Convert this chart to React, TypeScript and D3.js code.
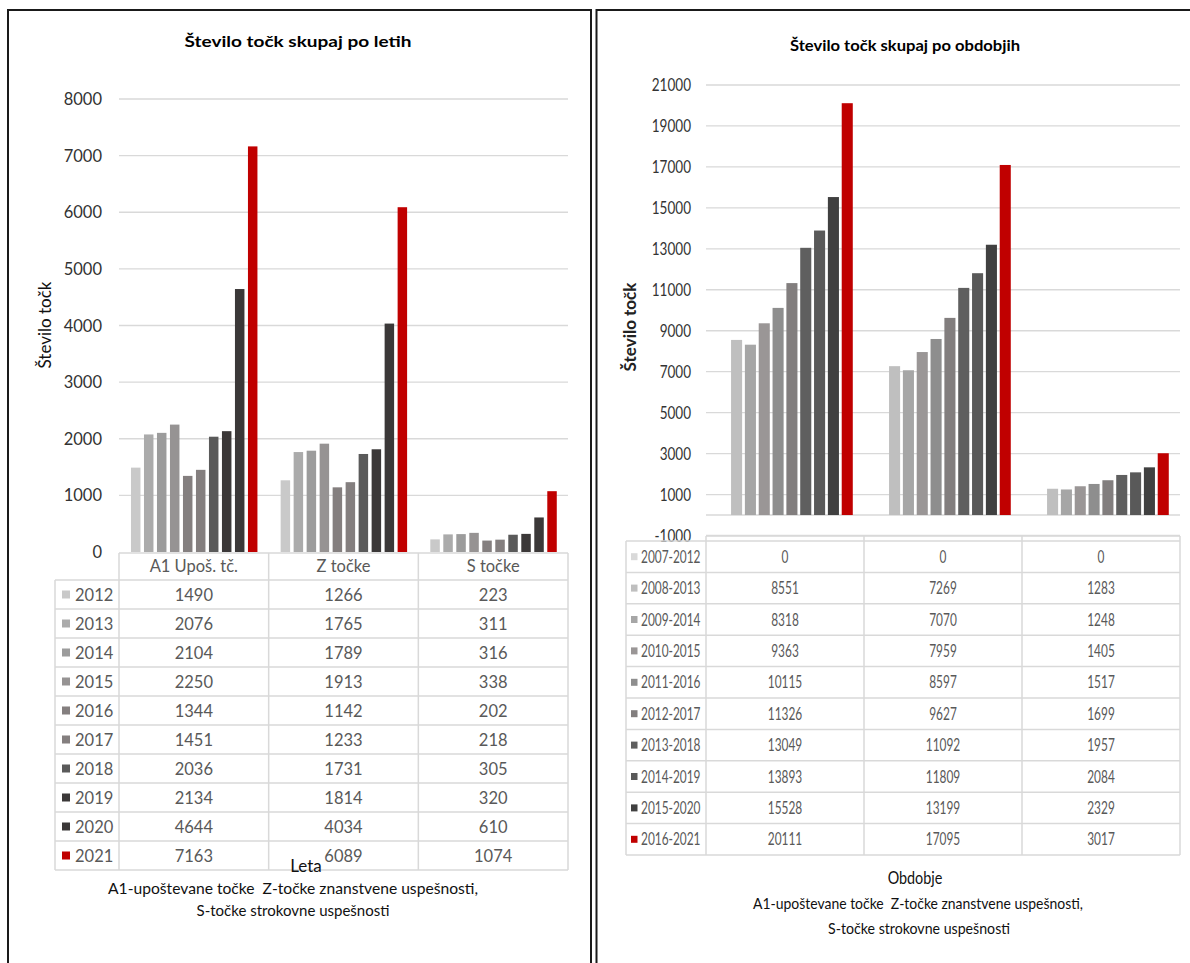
import React from "react";
import * as d3 from "d3";

// ---------- Data: left chart (po letih) ----------
const catsL = ["A1 Upoš. tč.", "Z točke", "S točke"];
const yearsL = ["2012", "2013", "2014", "2015", "2016", "2017", "2018", "2019", "2020", "2021"];
const a1L = [1490, 2076, 2104, 2250, 1344, 1451, 2036, 2134, 4644, 7163];
const zL = [1266, 1765, 1789, 1913, 1142, 1233, 1731, 1814, 4034, 6089];
const sL = [223, 311, 316, 338, 202, 218, 305, 320, 610, 1074];
const colorsL = ["#c9c9c9", "#ababab", "#9c9c9c", "#969393", "#847f7f", "#847f7f", "#5a5a5a", "#3b3838", "#3b3838", "#c00000"];
const ticksL = [0, 1000, 2000, 3000, 4000, 5000, 6000, 7000, 8000];

// ---------- Data: right chart (po obdobjih) ----------
const catsR = ["A1", "Z", "S"];
const periodsR = ["2007-2012", "2008-2013", "2009-2014", "2010-2015", "2011-2016", "2012-2017", "2013-2018", "2014-2019", "2015-2020", "2016-2021"];
const a1R = [0, 8551, 8318, 9363, 10115, 11326, 13049, 13893, 15528, 20111];
const zR = [0, 7269, 7070, 7959, 8597, 9627, 11092, 11809, 13199, 17095];
const sR = [0, 1283, 1248, 1405, 1517, 1699, 1957, 2084, 2329, 3017];
const colorsR = ["#d9d9d9", "#bfbfbf", "#a6a6a6", "#9a9696", "#8e8e8e", "#827e7e", "#5f5f5f", "#595959", "#404040", "#c00000"];
const ticksR = [-1000, 1000, 3000, 5000, 7000, 9000, 11000, 13000, 15000, 17000, 19000, 21000];

const FONT = "Lato, 'Open Sans', sans-serif";
const GRID = "#d9d9d9";

function T(props: any) {
  const { x, y, children, size = 16, anchor = "middle", sx = 1, weight = 400, fill = "#000", rotate = 0, tl } = props;
  const tr = `translate(${x},${y})${rotate ? ` rotate(${rotate})` : ""}${sx !== 1 ? ` scale(${sx},1)` : ""}`;
  return (
    <text
      transform={tr}
      fontSize={size}
      textAnchor={anchor}
      fontWeight={weight}
      fill={fill}
      fontFamily={FONT}
      textLength={tl}
      lengthAdjust={tl ? "spacingAndGlyphs" : undefined}
      style={{ whiteSpace: "pre" }}
    >
      {children}
    </text>
  );
}

function LeftChart() {
  const series = [a1L, zL, sL];
  const y = d3.scaleLinear().domain([0, 8000]).range([552, 99]);
  const x0 = d3.scaleBand<string>().domain(catsL).range([119, 568]);
  const bw = x0.bandwidth();
  const x1 = d3.scaleBand<string>().domain(yearsL).range([bw * 0.08, bw * 0.925]).paddingInner(0.27);
  const headTop = 553;
  const rowTop = 580;
  const rowH = 29;
  const tableBottom = rowTop + rowH * yearsL.length;
  const colEdges = [...catsL.map((c) => x0(c)!), 568];
  return (
    <g>
      <T x={298} y={47} size={16} weight={700} tl={227}>Število točk skupaj po letih</T>
      {ticksL.map((t) => (
        <g key={t}>
          {t > 0 && <line x1={119} x2={568} y1={y(t)} y2={y(t)} stroke={GRID} strokeWidth={1.3} />}
          <T x={102} y={y(t) + 6} anchor="end" size={16.5} fill="#333">{t}</T>
        </g>
      ))}
      <T x={51} y={325} rotate={-90} size={17} fill="#111">Število točk</T>
      {catsL.map((c, ci) => (
        <g key={c}>
          {yearsL.map((yr, si) => (
            <rect
              key={yr}
              x={x0(c)! + x1(yr)!}
              width={x1.bandwidth()}
              y={y(series[ci][si])}
              height={y(0) - y(series[ci][si])}
              fill={colorsL[si]}
            />
          ))}
        </g>
      ))}
      {/* table */}
      <line x1={119} x2={568} y1={headTop} y2={headTop} stroke={GRID} strokeWidth={1.5} />
      {d3.range(yearsL.length + 1).map((i) => (
        <line key={i} x1={55} x2={568} y1={rowTop + i * rowH} y2={rowTop + i * rowH} stroke={GRID} strokeWidth={1.5} />
      ))}
      <line x1={55} x2={55} y1={rowTop} y2={tableBottom} stroke={GRID} strokeWidth={1.5} />
      {colEdges.map((cx, i) => (
        <line key={i} x1={cx} x2={cx} y1={headTop} y2={tableBottom} stroke={GRID} strokeWidth={1.5} />
      ))}
      {catsL.map((c) => (
        <T key={c} x={x0(c)! + bw / 2} y={headTop + 19} size={16.5} fill="#595959">{c}</T>
      ))}
      {yearsL.map((yr, si) => {
        const cy = rowTop + si * rowH + rowH / 2;
        return (
          <g key={yr}>
            <rect x={62} y={cy - 4} width={8} height={8} fill={colorsL[si]} />
            <T x={75} y={cy + 6} anchor="start" size={16.5} fill="#595959">{yr}</T>
            {catsL.map((c, ci) => (
              <T key={c} x={x0(c)! + bw / 2} y={cy + 6} size={16.5} fill="#595959">{series[ci][si]}</T>
            ))}
          </g>
        );
      })}
      <T x={306} y={872} size={17} fill="#111">Leta</T>
      <T x={293} y={894} size={16} fill="#111" tl={370}>A1-upoštevane točke  Z-točke znanstvene uspešnosti,</T>
      <T x={293} y={916} size={16} fill="#111" tl={193}>S-točke strokovne uspešnosti</T>
    </g>
  );
}

function RightChart() {
  const series = [a1R, zR, sR];
  const y = d3.scaleLinear().domain([-1000, 21000]).range([535.5, 85]);
  const x0 = d3.scaleBand<string>().domain(catsR).range([706, 1180]);
  const bw = x0.bandwidth();
  const x1 = d3.scaleBand<string>().domain(periodsR).range([bw * 0.071, bw * 0.929]).paddingInner(0.2);
  const headTop = 536;
  const rowTop = 541;
  const rowH = 31.4;
  const tableBottom = rowTop + rowH * periodsR.length;
  const colEdges = [...catsR.map((c) => x0(c)!), 1180];
  return (
    <g>
      <T x={905} y={51} size={16} weight={700} tl={230}>Število točk skupaj po obdobjih</T>
      {ticksR.map((t) => (
        <g key={t}>
          <line x1={706} x2={1180} y1={y(t)} y2={y(t)} stroke={GRID} strokeWidth={1.3} />
          <T x={691} y={y(t) + 6} anchor="end" size={16.5} sx={0.82} fill="#333">{t}</T>
        </g>
      ))}
      <line x1={706} x2={1180} y1={y(0)} y2={y(0)} stroke={GRID} strokeWidth={1.5} />
      <T x={636} y={327} rotate={-90} size={17} weight={700} fill="#222">Število točk</T>
      {catsR.map((c, ci) => (
        <g key={c}>
          {periodsR.map((p, si) => (
            <rect
              key={p}
              x={x0(c)! + x1(p)!}
              width={x1.bandwidth()}
              y={y(series[ci][si])}
              height={y(0) - y(series[ci][si])}
              fill={colorsR[si]}
            />
          ))}
        </g>
      ))}
      {/* table */}
      <line x1={706} x2={1180} y1={headTop} y2={headTop} stroke={GRID} strokeWidth={1.5} />
      {d3.range(periodsR.length + 1).map((i) => (
        <line key={i} x1={626} x2={1180} y1={rowTop + i * rowH} y2={rowTop + i * rowH} stroke={GRID} strokeWidth={1.5} />
      ))}
      <line x1={626} x2={626} y1={rowTop} y2={tableBottom} stroke={GRID} strokeWidth={1.5} />
      {colEdges.map((cx, i) => (
        <line key={i} x1={cx} x2={cx} y1={headTop} y2={tableBottom} stroke={GRID} strokeWidth={1.5} />
      ))}
      {periodsR.map((p, si) => {
        const cy = rowTop + si * rowH + rowH / 2;
        return (
          <g key={p}>
            <rect x={631} y={cy - 3.5} width={6.5} height={7} fill={colorsR[si]} />
            <T x={641} y={cy + 6} anchor="start" size={16.5} sx={0.72} fill="#595959">{p}</T>
            {catsR.map((c, ci) => (
              <T key={c} x={x0(c)! + bw / 2} y={cy + 6} size={16.5} sx={0.72} fill="#595959">{series[ci][si]}</T>
            ))}
          </g>
        );
      })}
      <T x={915} y={884} size={18} sx={0.8} fill="#111">Obdobje</T>
      <T x={918} y={909} size={16} fill="#111" tl={330}>A1-upoštevane točke  Z-točke znanstvene uspešnosti,</T>
      <T x={919} y={934} size={16} fill="#111" tl={182}>S-točke strokovne uspešnosti</T>
    </g>
  );
}

export default function App() {
  return (
    <svg
      width={1190}
      height={963}
      viewBox="0 0 1190 963"
      style={{ position: "absolute", left: 0, top: 0, background: "#fff", display: "block" }}
    >
      <rect x={0} y={0} width={1190} height={963} fill="#fff" />
      {/* panel borders */}
      <rect x={8} y={10} width={583} height={970} fill="none" stroke="#1a1a1a" strokeWidth={2} />
      <rect x={596.5} y={10} width={620} height={970} fill="none" stroke="#1a1a1a" strokeWidth={2} />
      <LeftChart />
      <RightChart />
    </svg>
  );
}
